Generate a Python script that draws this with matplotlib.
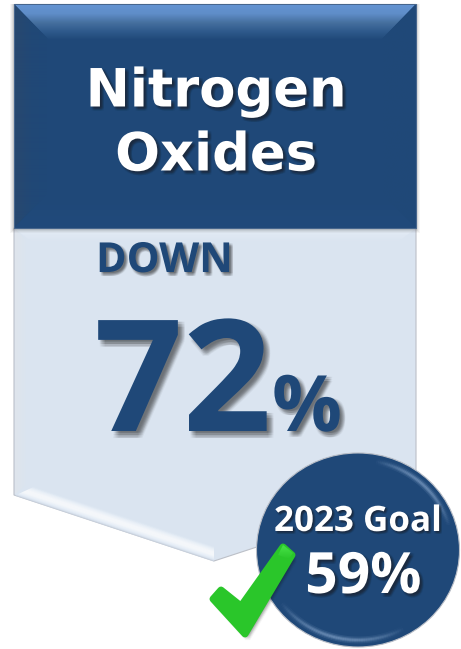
import numpy as np
import matplotlib
matplotlib.use('Agg')
import matplotlib.pyplot as plt
import matplotlib.patheffects as pe
from matplotlib.patches import Polygon, Ellipse
from matplotlib.colors import LinearSegmentedColormap

pollutant_lines = ['Nitrogen', 'Oxides']
direction = 'DOWN'
reduction_pct = 72
goal_year = 2023
goal_pct = 59

NAVY = '#1f4878'
PALE = '#dae4f0'
W, H = 461, 649

fig = plt.figure(figsize=(W / 100, H / 100), dpi=100)
ax = fig.add_axes([0, 0, 1, 1])
ax.set_xlim(0, W)
ax.set_ylim(H, 0)
ax.axis('off')


def gradient(clip, extent, colors, vertical=True, z=2):
    # paints a linear colour ramp clipped to the given polygon
    cmap = LinearSegmentedColormap.from_list('g', colors)
    ramp = np.linspace(0, 1, 256)
    ramp = ramp[:, None] if vertical else ramp[None, :]
    im = ax.imshow(ramp, extent=extent, cmap=cmap, aspect='auto', zorder=z,
                   origin='upper', interpolation='bilinear')
    patch = Polygon(clip, closed=True, transform=ax.transData, fc='none', ec='none', zorder=z)
    ax.add_patch(patch)
    im.set_clip_path(patch)


def soft_shadow(dx=2, dy=-2, spread=1.2, alpha=0.07):
    # stack of faint offset copies, reads as a blurred drop shadow
    effects = []
    for ox in (-spread, -spread / 2, 0, spread / 2, spread):
        for oy in (-spread, 0, spread):
            effects.append(pe.SimplePatchShadow(offset=(dx + ox, dy + oy), shadow_rgbFace='#1a1a1a', alpha=alpha))
    effects.append(pe.Normal())
    return effects


def soft_arc(cx, cy, rx, ry, start, end, color, peak):
    # rim light on the badge that fades out at both ends
    angles = np.radians(np.linspace(start, end, 61))
    for i in range(60):
        t = (i + 0.5) / 60
        fade = np.sin(np.pi * t)
        for lw, a in [(5, 0.25), (3, 0.45), (1.5, 0.6)]:
            ax.plot(cx + rx * np.cos(angles[i:i + 2]), cy - ry * np.sin(angles[i:i + 2]), color=color,
                    lw=lw, alpha=peak * a * fade, solid_capstyle='butt', zorder=8)


# pale pennant body
body = [(14, 228), (416, 228), (416, 495), (214, 561), (14, 495)]
ax.add_patch(Polygon(body, closed=True, fc=PALE, ec='#bcc0c8', lw=0.8, zorder=1))
gradient([(15, 229), (415, 229), (398, 242), (32, 242)], (15, 415, 242, 229), ['#e4ecf6', PALE])
gradient([(15, 229), (26, 240), (26, 485), (15, 494)], (15, 26, 494, 229), ['#dfe5ec', PALE], vertical=False)

# highlight along the lower left bevel, built from strips parallel to the edge
band = LinearSegmentedColormap.from_list('band', ['#ccd7e5', '#ecf3fb', '#ffffff', '#ffffff', '#f0f5fb', PALE])
for d0, d1 in zip(np.linspace(0, 15, 30)[:-1], np.linspace(0, 15, 30)[1:]):
    lx0, lx1 = 15 + d0 * 1.25, 15 + d1 * 1.25
    low = 495.3 + (lx0 - 14) * 0.3335 - d0
    high = 495.3 + (lx1 - 14) * 0.3335 - d1
    right_low = 561.5 - d0
    right_high = 561.5 - d1
    ax.add_patch(Polygon([(lx0, low), (214, right_low), (214, right_high), (lx1, high)], closed=True,
                         fc=band(d0 / 15), ec='none', zorder=2))

# dark header box with bevelled edges
for grow, a in [(4, 0.05), (3, 0.07), (2, 0.09), (1, 0.12)]:
    ax.add_patch(Polygon([(14 - grow, 4), (416 + grow, 4), (416 + grow, 229 + grow), (14 - grow, 229 + grow)],
                         fc='#555555', ec='none', alpha=a, zorder=2))
ax.add_patch(Polygon([(14, 4), (416, 4), (416, 228), (14, 228)], fc=NAVY, ec='#47668d', lw=0.8, zorder=3))
gradient([(15, 5), (415, 5), (381, 40), (49, 40)], (15, 415, 40, 5),
         ['#6494d2', '#5f8dc8', '#46709f', '#2f5a8c', NAVY], z=4)
gradient([(15, 5), (47, 38), (47, 194), (15, 227)], (15, 47, 227, 5),
         ['#28486f', '#214876', NAVY], vertical=False, z=4)
gradient([(415, 5), (383, 38), (383, 194), (415, 227)], (383, 415, 227, 5),
         [NAVY, '#204978'], vertical=False, z=4)
gradient([(15, 227), (47, 194), (383, 194), (415, 227)], (15, 415, 227, 194),
         [NAVY, '#214a7b'], z=4)

# header text
for line, y in zip(pollutant_lines, [86, 150]):
    ax.text(216, y, line, color='white', fontsize=38, fontweight='bold', family='DejaVu Sans',
            ha='center', va='center_baseline', zorder=6, path_effects=soft_shadow(1.8, -1.8, 1.0, 0.05))

# big reduction figure
ax.text(96, 272, direction, color=NAVY, fontsize=29.8, fontweight='bold', family='Open Sans',
        ha='left', va='baseline', zorder=6, path_effects=soft_shadow(1.8, -1.8, 1.0, 0.05))
ax.text(94, 431, str(reduction_pct), color=NAVY, fontsize=112, fontweight='bold', family='Open Sans',
        ha='left', va='baseline', zorder=6, path_effects=soft_shadow(3, -3, 1.8, 0.05))
ax.text(272, 431, '%', color=NAVY, fontsize=56, fontweight='bold', family='Open Sans',
        ha='left', va='baseline', zorder=6, path_effects=soft_shadow(2.5, -2.5, 1.5, 0.05))

# goal badge
cx, cy, rx, ry = 358, 550, 101.5, 97
ax.add_patch(Ellipse((cx, cy), 2 * rx, 2 * ry, fc=NAVY, ec='#b8bdc6', lw=0.8, zorder=7))
soft_arc(cx, cy, rx - 7, ry - 7, 15, 80, '#8fadd2', 0.6)
soft_arc(cx, cy, rx - 7, ry - 7, 215, 300, '#8fadd2', 0.6)
ax.text(358, 522, f'{goal_year} Goal', color='white', fontsize=25.2, fontweight='bold', family='Open Sans',
        ha='center', va='center', zorder=9, path_effects=soft_shadow(1.2, -1.2, 0.8, 0.05))
ax.text(363.5, 578, f'{goal_pct}%', color='white', fontsize=41, fontweight='bold', family='Open Sans',
        ha='center', va='center', zorder=9, path_effects=soft_shadow(1.8, -1.8, 1.0, 0.05))

# green check mark
check = [(213, 599), (221, 590), (241, 606), (283, 547), (292, 555), (245, 634)]
ax.add_patch(Polygon(check, closed=True, fc='#2ac62a', ec='#2ac62a', lw=5, joinstyle='round', zorder=10,
                     path_effects=soft_shadow(2, -3, 1.6, 0.04)))
gradient([(283, 545), (293, 553), (289, 559), (278, 555)], (278, 293, 559, 545), ['#48e248', '#2ac62a'], z=11)

fig.savefig('out.png', dpi=100, facecolor='white')
